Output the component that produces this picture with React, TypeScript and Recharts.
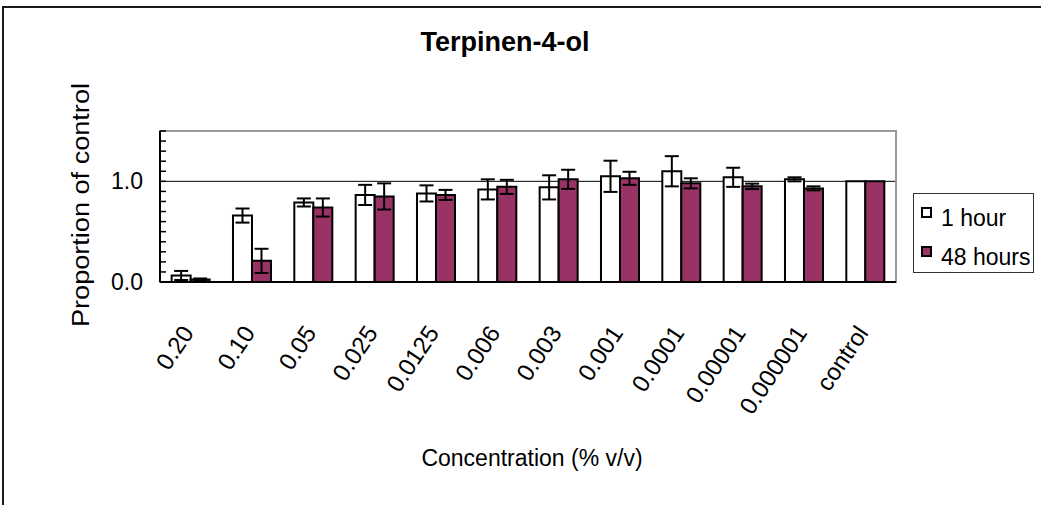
import React from "react";
import { BarChart, Bar, XAxis, YAxis, ErrorBar, CartesianGrid, Legend, ReferenceArea } from "recharts";

// concentrations (% v/v)
const concentrations = ["0.20", "0.10", "0.05", "0.025", "0.0125", "0.006", "0.003", "0.001", "0.0001", "0.00001", "0.000001", "control"];
const oneHour = [0.065, 0.66, 0.79, 0.865, 0.88, 0.92, 0.94, 1.05, 1.1, 1.04, 1.02, 1.0];
const oneHourErr = [0.045, 0.07, 0.04, 0.1, 0.08, 0.1, 0.12, 0.155, 0.15, 0.095, 0.02, 0];
const fortyEightHours = [0.025, 0.21, 0.74, 0.85, 0.865, 0.945, 1.02, 1.03, 0.98, 0.95, 0.93, 1.0];
const fortyEightHoursErr = [0.01, 0.12, 0.09, 0.13, 0.05, 0.07, 0.095, 0.065, 0.05, 0.027, 0.02, 0];

const yTicks = [0, 0.1, 0.2, 0.3, 0.4, 0.5, 0.6, 0.7, 0.8, 0.9, 1.0, 1.1, 1.2, 1.3, 1.4, 1.5];
const yLabels: Record<string, string> = { "0": "0.0", "1": "1.0" };
const yDomain = [0, 1.5];
const gridValues = [1];

const FONT = "'Liberation Sans', Arial, sans-serif";
const PLUM = "#993366";

const data = concentrations.map((c, i) => ({
  conc: c,
  h1: oneHour[i],
  h1Err: oneHourErr[i],
  h48: fortyEightHours[i],
  h48Err: fortyEightHoursErr[i],
}));

// gridline at 1.0 only (drawn behind the bars like Excel)
const gridAt = ({ yAxis, offset }: any) =>
  gridValues.map((v) => {
    if (yAxis && typeof yAxis.scale === "function") return yAxis.scale(v);
    return offset.top + offset.height * (1 - (v - yDomain[0]) / (yDomain[1] - yDomain[0]));
  });

const ConcTick = (props: any) => {
  const { x, y, payload } = props;
  const px = x + 4;
  const py = y + 51;
  return (
    <text x={px} y={py} transform={`rotate(-56 ${px} ${py})`} textAnchor="end" fontSize={24} fontFamily={FONT} fill="#000">
      {payload.value}
    </text>
  );
};

const PropTick = (props: any) => {
  const { x, y, payload } = props;
  const label = yLabels[String(payload.value)];
  return (
    <g>
      <line x1={x} x2={x + 6} y1={y} y2={y} stroke="#000" strokeWidth={1.5} />
      {label && (
        <text x={x - 17} y={y + 8} textAnchor="end" fontSize={23} fontFamily={FONT} fill="#000">
          {label}
        </text>
      )}
    </g>
  );
};

const LegendBox = () => (
  <div style={{ position: "relative", width: 121, height: 80, border: "1px solid #333", boxSizing: "border-box", background: "#fff", fontFamily: FONT, fontSize: 23, lineHeight: "23px" }}>
    <div style={{ position: "absolute", left: 7, top: 13, width: 11, height: 11, border: "2px solid #000", background: "#fff", boxSizing: "border-box" }} />
    <div style={{ position: "absolute", left: 27, top: 13 }}>1 hour</div>
    <div style={{ position: "absolute", left: 7, top: 52, width: 11, height: 11, border: "2px solid #000", background: PLUM, boxSizing: "border-box" }} />
    <div style={{ position: "absolute", left: 27, top: 52 }}>48 hours</div>
  </div>
);

export default function App() {
  return (
    <div style={{ position: "absolute", left: 0, top: 0, width: 1041, height: 505, background: "#fff", overflow: "hidden" }}>
      <BarChart width={1041} height={505} data={data} margin={{ top: 131, right: 145, bottom: 103, left: 100 }} barCategoryGap="19%" barGap={0}>
        <CartesianGrid vertical={false} stroke="#000" strokeWidth={1} horizontalCoordinatesGenerator={gridAt} />
        {/* plot frame: grey on top and right */}
        <ReferenceArea y1={yDomain[0]} y2={yDomain[1]} fill="none" stroke="#999" strokeWidth={2} />
        <XAxis dataKey="conc" interval={0} height={120} tickSize={0} tickMargin={0} tickLine={false} axisLine={{ stroke: "#000", strokeWidth: 2 }} tick={<ConcTick />} />
        <YAxis domain={yDomain} ticks={yTicks} interval={0} width={60} tickSize={0} tickMargin={0} tickLine={false} axisLine={{ stroke: "#000", strokeWidth: 2 }} tick={<PropTick />} />
        <Legend
          layout="horizontal"
          verticalAlign="middle"
          align="center"
          content={() => <LegendBox />}
          wrapperStyle={{ left: 913, top: 193, width: 121, height: 80 }}
        />
        <Bar dataKey="h1" name="1 hour" fill="#fff" stroke="#000" strokeWidth={2} isAnimationActive={false}>
          <ErrorBar dataKey="h1Err" width={7} stroke="#000" strokeWidth={2} />
        </Bar>
        <Bar dataKey="h48" name="48 hours" fill={PLUM} stroke="#000" strokeWidth={2} isAnimationActive={false}>
          <ErrorBar dataKey="h48Err" width={7} stroke="#000" strokeWidth={2} />
        </Bar>
      </BarChart>
      <svg width={1041} height={505} style={{ position: "absolute", left: 0, top: 0, pointerEvents: "none" }}>
        <path d="M3,505 V7 H1041" fill="none" stroke="#1a1a1a" strokeWidth={2} />
        <text x={505} y={51} textAnchor="middle" fontSize={27} fontWeight="bold" fontFamily={FONT} fill="#000">
          Terpinen-4-ol
        </text>
        <text x={89} y={205} transform="rotate(-90 89 205)" textAnchor="middle" fontSize={23} fontFamily={FONT} fill="#000" textLength={244} lengthAdjust="spacingAndGlyphs">
          Proportion of control
        </text>
        <text x={532} y={466} textAnchor="middle" fontSize={23} fontFamily={FONT} fill="#000">
          Concentration (% v/v)
        </text>
      </svg>
    </div>
  );
}
